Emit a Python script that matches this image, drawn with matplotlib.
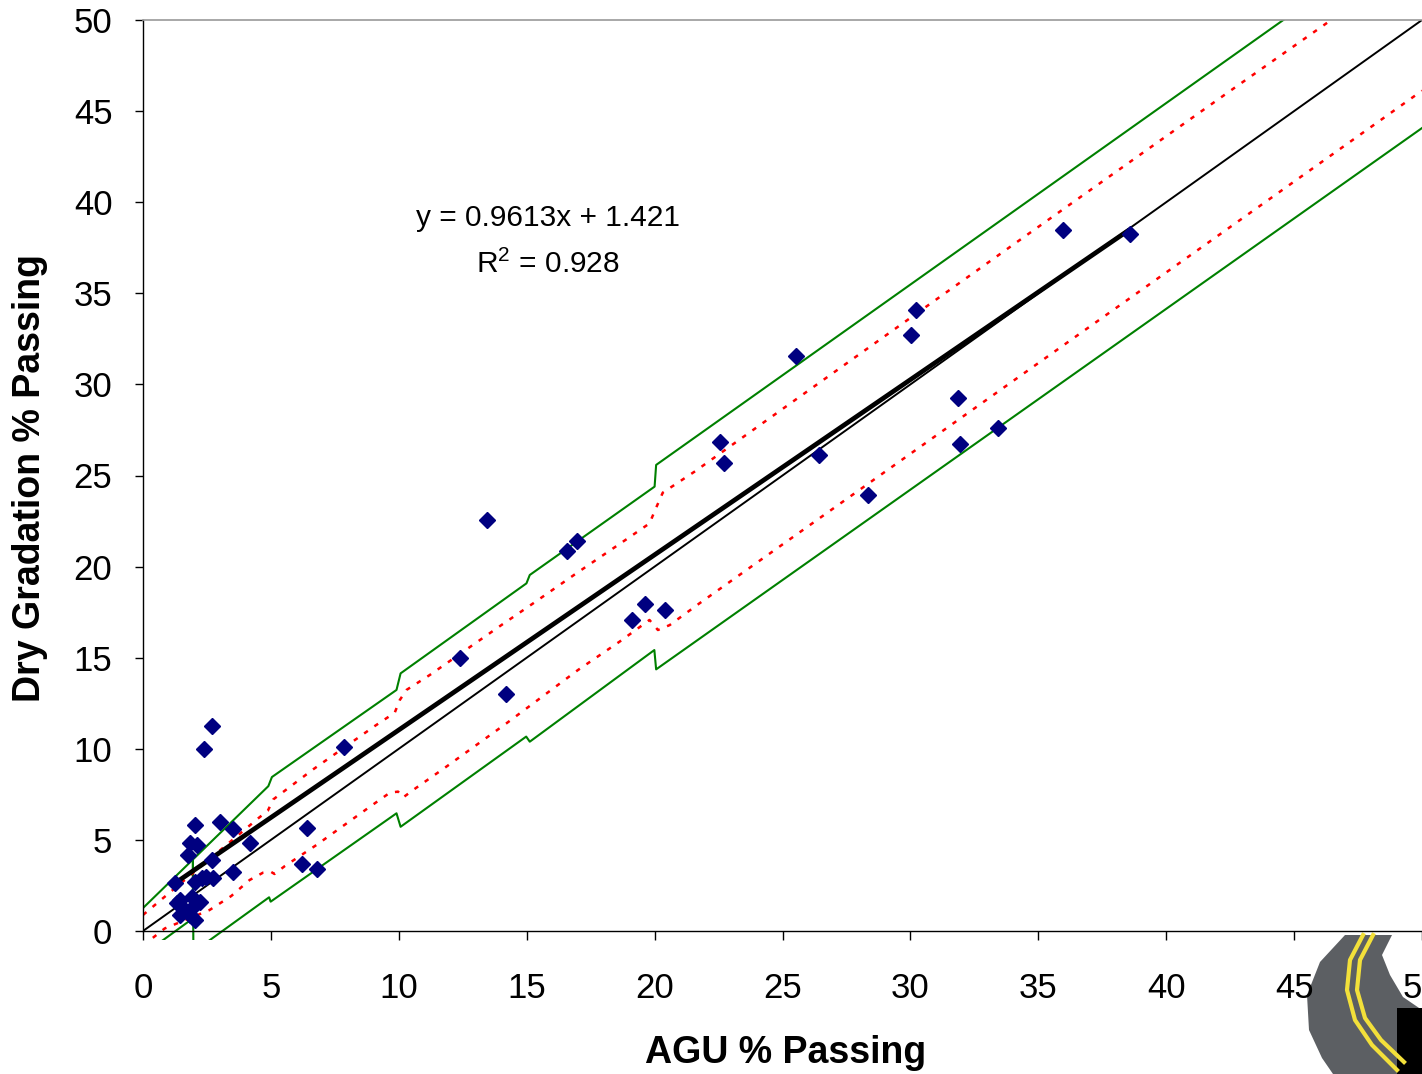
import matplotlib.pyplot as plt
from matplotlib.patches import Rectangle, Polygon
import numpy as np

plt.rcParams['font.family'] = ['Liberation Sans', 'DejaVu Sans']
plt.rcParams['mathtext.fontset'] = 'custom'
plt.rcParams['mathtext.rm'] = 'Liberation Sans'

# measured points (AGU vs dry gradation % passing)
agu = [13.44, 16.56, 16.95, 12.38, 14.18, 7.85, 2.7, 2.38, 2.03, 3.0, 3.52, 4.17,
       6.41, 6.21, 6.8, 3.52, 2.68, 2.73, 1.82, 2.1, 1.77, 2.29, 2.48, 2.03, 1.24,
       1.45, 1.9, 1.31, 2.23, 1.57, 1.96, 1.45, 1.84, 2.03, 19.1, 19.61, 20.39,
       22.54, 22.7, 25.51, 26.41, 28.36, 30.04, 30.23, 31.88, 31.95, 33.44, 35.98, 38.59]
dry = [22.56, 20.86, 21.4, 14.98, 13.01, 10.1, 11.25, 9.99, 5.82, 6.0, 5.6, 4.85,
       5.65, 3.68, 3.4, 3.22, 3.9, 2.89, 4.81, 4.72, 4.17, 2.89, 2.98, 2.71, 2.62,
       1.7, 1.88, 1.51, 1.6, 1.24, 1.33, 0.88, 0.88, 0.6, 17.07, 17.95, 17.62,
       26.84, 25.69, 31.56, 26.13, 23.93, 32.71, 34.08, 29.25, 26.73, 27.61, 38.47, 38.25]

# regression
slope = 0.9613
intercept = 1.421
r2 = 0.928
trend_x = [1.2, 38.5]

# line of equality
equal_x = [0, 50]
equal_y = [0, 50]

# tolerance limits (green)
upper_lim_x = [0, 4.9, 5.04, 9.91, 10.07, 14.99, 15.12, 20.0, 20.06, 50]
upper_lim_y = [1.26, 7.95, 8.45, 13.23, 14.14, 19.08, 19.54, 24.39, 25.58, 55.4]
lower_lim_x = [0, 1.95, 1.95, 1.97, 4.93, 4.99, 9.91, 10.07, 14.98, 15.12, 19.99, 20.06, 50]
lower_lim_y = [-1.3, 0.69, 4.3, -1.15, 1.85, 1.61, 6.46, 5.72, 10.67, 10.39, 15.42, 14.36, 44.07]

# confidence bands (red dotted)
upper_ci_x = [0, 4.5, 4.88, 5.09, 6.65, 9.06, 9.84, 10.04, 10.3, 11.21, 14.01, 15.25,
              16.94, 18.89, 19.8, 20.05, 20.32, 21.56, 34.0, 36.02, 42.46, 50]
upper_ci_y = [0.88, 6.18, 6.6, 7.22, 8.87, 11.25, 11.98, 12.68, 13.23, 14.05, 16.79, 17.98,
              19.63, 21.49, 22.37, 23.2, 24.06, 25.21, 37.65, 39.66, 46.07, 53.5]
lower_ci_x = [0, 0.85, 2.6, 3.45, 4.17, 4.69, 5.0, 5.14, 5.55, 6.78, 8.87, 9.65, 9.97,
              10.17, 10.56, 11.8, 14.2, 17.0, 18.63, 19.8, 20.13, 20.59, 21.76, 41.42, 50]
lower_ci_y = [-0.8, 0.14, 1.15, 1.92, 2.8, 3.2, 3.25, 3.13, 3.57, 4.72, 6.82, 7.59, 7.65,
              7.33, 7.74, 8.96, 11.39, 14.32, 15.88, 17.07, 16.52, 16.79, 17.99, 37.56, 46.12]

ticks = np.arange(0, 55, 5)

W, H = 1422, 1074
fig = plt.figure(figsize=(W / 100, H / 100), dpi=100)

# logo in the lower right corner (decoration)
lax = fig.add_axes([0, 0, 1, 1], zorder=-1)
lax.set_xlim(0, W)
lax.set_ylim(H, 0)
lax.axis('off')
road = [(1345, 935), (1320, 962), (1307, 995), (1309, 1030), (1322, 1058), (1333, 1074),
        (1422, 1074), (1422, 1010), (1403, 997), (1390, 975), (1382, 955), (1392, 935)]
lax.add_patch(Polygon(road, closed=True, facecolor='#5c5f63', edgecolor='none'))
lax.plot([1363, 1350, 1347, 1355, 1372, 1397], [935, 960, 990, 1020, 1045, 1070],
         color='#f3e03a', lw=3)
lax.plot([1373, 1360, 1357, 1365, 1381, 1404], [935, 960, 990, 1018, 1040, 1062],
         color='#f3e03a', lw=3)
lax.add_patch(Polygon([(1397, 1008), (1422, 1008), (1422, 1074), (1397, 1074)],
                      closed=True, facecolor='black', edgecolor='none'))

ax = fig.add_axes([143 / W, (H - 931) / H, 1 - 143 / W, (931 - 20) / H], zorder=1)

clip = Rectangle((0, -0.5), 50, 50.5, transform=ax.transData)

lines = []
lines += ax.plot(upper_lim_x, upper_lim_y, color='#008000', lw=1.5)
lines += ax.plot(lower_lim_x, lower_lim_y, color='#008000', lw=1.5)
lines += ax.plot(upper_ci_x, upper_ci_y, color='#ff0000', lw=1.8, dashes=(1.8, 3.2))
lines += ax.plot(lower_ci_x, lower_ci_y, color='#ff0000', lw=1.8, dashes=(1.8, 3.2))
lines += ax.plot(equal_x, equal_y, color='black', lw=1.4)
tx = np.array(trend_x)
lines += ax.plot(tx, slope * tx + intercept, color='black', lw=3.4)
for ln in lines:
    ln.set_clip_path(clip)

ax.plot(agu, dry, linestyle='none', marker='D', ms=8.5, color='#000080', zorder=5)

ax.set_xlim(0, 50)
ax.set_ylim(0, 50)
ax.set_xticks(ticks)
ax.set_yticks(ticks)
ax.tick_params(axis='x', direction='out', length=6.5, width=1, labelsize=25, pad=23)
ax.tick_params(axis='y', direction='out', length=6, width=1, labelsize=25, pad=16)
ax.spines['right'].set_visible(False)
ax.spines['top'].set_color('#999999')
ax.spines['top'].set_linewidth(1.2)
for s in ['left', 'bottom']:
    ax.spines[s].set_linewidth(1)

fig.text(548 / W, 1 - 218 / H, 'y = %.4fx + %.3f' % (slope, intercept),
         ha='center', va='center', fontsize=21.5)
fig.text(548 / W, 1 - 264 / H, 'R$^2$ = %.3f' % r2, ha='center', va='center',
         fontsize=21.5)

fig.text(30 / W, 1 - 478 / H, 'Dry Gradation % Passing', rotation=90, ha='center',
         va='center', fontsize=27, fontweight='bold')
fig.text(786 / W, 1 - 1053 / H, 'AGU % Passing', ha='center', va='center',
         fontsize=27, fontweight='bold')

fig.savefig('out.png', dpi=100)
